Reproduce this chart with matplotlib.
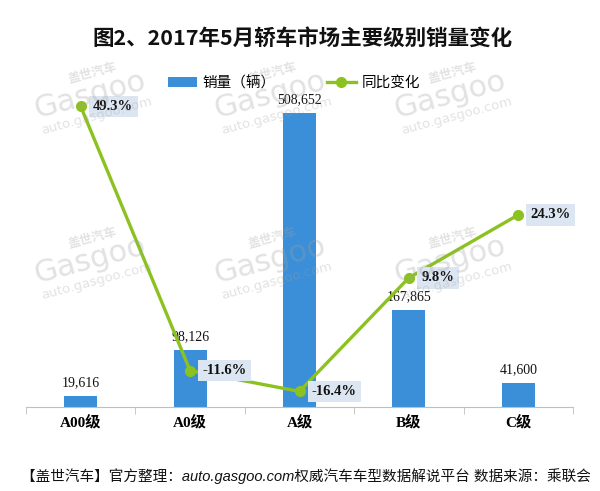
import math
import matplotlib
matplotlib.use("Agg")
import matplotlib.pyplot as plt
import numpy as np

plt.rcParams['font.family'] = ['Noto Sans CJK SC', 'DejaVu Sans']

# 数据
categories = ['A00级', 'A0级', 'A级', 'B级', 'C级']
sales = [19616, 98126, 508652, 167865, 41600]
yoy = [49.3, -11.6, -16.4, 9.8, 24.3]

title = '图2、2017年5月轿车市场主要级别销量变化'
footer = '【盖世汽车】官方整理：auto.gasgoo.com权威汽车车型数据解说平台 数据来源：乘联会'

bar_color = '#3A8FD8'
line_color = '#8CC220'
serif = ['Liberation Serif', 'Noto Sans CJK SC']

fig = plt.figure(figsize=(6, 4.91), dpi=100)
ax = fig.add_axes([26 / 600, 1 - 407 / 491, 547 / 600, 347 / 491])
ax2 = ax.twinx()

x = np.arange(len(categories))
bars = ax.bar(x, sales, width=0.3, color=bar_color, label='销量（辆）', zorder=2)
ax.set_ylim(0, 600000)
ax.set_xlim(-0.5, len(categories) - 0.5)

for xi, v in zip(x, sales):
    ax.annotate(f'{v:,}', (xi, v), xytext=(0, 5), textcoords='offset points',
                ha='center', va='bottom', fontsize=10, family=serif, color='#111111')

line, = ax2.plot(x, yoy, color=line_color, lw=2.4, marker='o', ms=7,
                 label='同比变化', zorder=3)
ax2.set_ylim(-20, 60)

for xi, v in zip(x, yoy):
    ax2.annotate(f'{v}%', (xi, v), xytext=(9, 0), textcoords='offset points',
                 ha='left', va='center', fontsize=10.5, fontweight='bold',
                 family=serif, color='#111111',
                 bbox=dict(boxstyle='square,pad=0.3', fc='#DCE6F2', ec='none'))

# 坐标轴样式
for a in (ax, ax2):
    for s in ('top', 'left', 'right'):
        a.spines[s].set_visible(False)
    a.set_yticks([])
ax2.spines['bottom'].set_visible(False)
ax.spines['bottom'].set_color('#BFBFBF')
ax.set_xticks(x)
ax.set_xticklabels(categories, fontsize=11, fontweight='bold', family=serif)
ax.tick_params(axis='x', which='major', length=0, pad=6)
ax.set_xticks(np.arange(-0.5, len(categories)), minor=True)
ax.tick_params(axis='x', which='minor', length=5, color='#BFBFBF')

fig.text(0.505, 1 - 38 / 491, title, ha='center', va='center',
         fontsize=15.5, fontweight='bold', color='#111111')

fig.legend([bars, line], ['销量（辆）', '同比变化'], loc='center',
           bbox_to_anchor=(0.49, 1 - 83 / 491), ncol=2, frameon=False,
           fontsize=10.5, handlelength=2.0, columnspacing=3.5, handletextpad=0.4)

fig.text(21 / 600, 1 - 476 / 491, footer, ha='left', va='center', fontsize=10.5,
         style='italic', family=['Liberation Sans', 'Noto Sans CJK SC'], color='#111111')

# 水印
marks = [(90, 97), (270, 97), (450, 97), (90, 262), (270, 262), (450, 262)]
ang = math.radians(15)
parts = [('盖世汽车', 8, 22, 9, 'bold'), ('Gasgoo', 0, 2, 22, 'normal'),
         ('auto.gasgoo.com', 2, -20, 9.5, 'normal')]
for cx, cy in marks:
    for txt, dx, dy, fs, fw in parts:
        ox = dx * math.cos(ang) - dy * math.sin(ang)
        oy = dx * math.sin(ang) + dy * math.cos(ang)
        fig.text(cx / 600 + ox / 600, 1 - cy / 491 + oy / 491, txt,
                 ha='center', va='center', rotation=15, rotation_mode='anchor',
                 fontsize=fs, fontweight=fw, family=['DejaVu Sans', 'Noto Sans CJK SC'],
                 color='#A0A0A0', alpha=0.3, zorder=10)

fig.savefig('out.png', dpi=100)
